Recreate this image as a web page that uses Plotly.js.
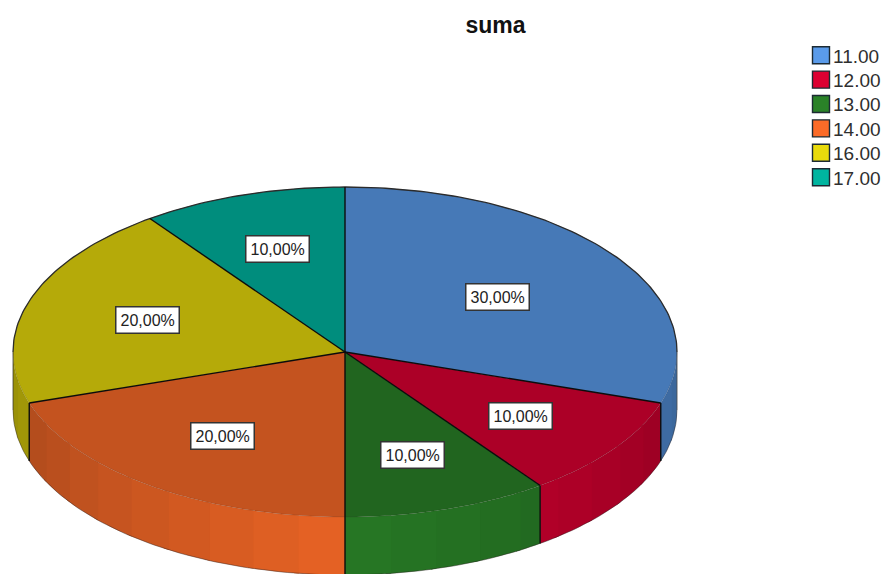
<!DOCTYPE html>
<html>
<head>
<meta charset="utf-8">
<script src="https://cdn.plot.ly/plotly-3.0.1.min.js"></script>
<style>html,body{margin:0;padding:0;background:#fff;overflow:hidden}#c{width:885px;height:574px}</style>
</head>
<body>
<div id="c"></div>
<script>
// data
var categories = ["11.00", "12.00", "13.00", "14.00", "16.00", "17.00"];
var percents = [30, 10, 10, 20, 20, 10];
var labels = ["30,00%", "10,00%", "10,00%", "20,00%", "20,00%", "10,00%"];
var baseColors = ["#5A9BEA", "#DC0032", "#2A8228", "#FB6B28", "#E8DA0C", "#00B5A0"];
var labelRadius = [0.566, 0.655, 0.656, 0.63, 0.625, 0.655];

// projection of the tilted pie
var cx = 345, cy = 352, rx = 332, ry = 165, depth = 58;
var topShade = 0.78, facet = 8, arcStep = 1;
var rad = Math.PI / 180;
function px(a) { return cx + rx * Math.sin(a * rad); }
function py(a) { return cy - ry * Math.cos(a * rad); }
function rgb(hex, f) {
  var n = parseInt(hex.slice(1), 16);
  var c = [(n >> 16) & 255, (n >> 8) & 255, n & 255].map(function (v) { return Math.min(255, Math.round(v * f)); });
  return "rgb(" + c.join(",") + ")";
}
function arc(a0, a1) {
  var out = [], a = a0;
  while (a < a1) { out.push(a); a += arcStep; }
  out.push(a1);
  return out;
}
function sideShade(a) { return 0.65 + 0.27 * (1 - Math.abs(a - 180) / 90); }

var traces = [], total = percents.reduce(function (s, v) { return s + v; }, 0);
var starts = [], acc = 0;
percents.forEach(function (p) { starts.push(acc / total * 360); acc += p; });
function endOf(i) { return starts[i] + percents[i] / total * 360; }
function shape(xs, ys, fill, name) {
  traces.push({ type: "scatter", mode: "none", x: xs, y: ys, fill: "toself", fillcolor: fill,
    name: name, showlegend: false, hoverinfo: "skip" });
}
function stroke(xs, ys, color, width) {
  traces.push({ type: "scatter", mode: "lines", x: xs, y: ys, line: { color: color, width: width },
    showlegend: false, hoverinfo: "skip" });
}

// visible side wall, faceted; each facet runs slightly under its neighbour so no seam shows
categories.forEach(function (cat, i) {
  var s = Math.max(starts[i], 90), e = Math.min(endOf(i), 270);
  if (e <= s) return;
  var a = s, parts = [];
  while (a < e - 1e-6) {
    var next = Math.min(e, (Math.floor((a - 180) / facet + 1e-6) + 1) * facet + 180);
    parts.push([a, next]);
    a = next;
  }
  parts.forEach(function (p) {
    var as = arc(p[0], Math.min(e, p[1] + 1));
    var xs = as.map(px), ys = as.map(py);
    var xb = xs.slice().reverse(), yb = as.map(function (t) { return py(t) + depth; }).reverse();
    shape(xs.concat(xb), ys.concat(yb), rgb(baseColors[i], sideShade((p[0] + p[1]) / 2)), cat);
  });
});

// top slices
categories.forEach(function (cat, i) {
  var as = arc(starts[i], endOf(i));
  shape([cx].concat(as.map(px), [cx]), [cy].concat(as.map(py), [cy]), rgb(baseColors[i], topShade), cat);
});

// silhouette and edges
var back1 = arc(0, 90), back2 = arc(270, 360), front = arc(90, 270);
stroke(back1.map(px), back1.map(py), "#2b2b2b", 1.3);
stroke(back2.map(px), back2.map(py), "#2b2b2b", 1.3);
stroke(front.map(px), front.map(function (t) { return py(t) + depth; }), "rgba(40,30,30,0.55)", 0.8);
stroke(front.map(px), front.map(py), "rgba(40,30,30,0.22)", 0.7);
stroke([px(90), px(90)], [py(90), py(90) + depth], "rgba(40,40,40,0.7)", 1);
stroke([px(270), px(270)], [py(270), py(270) + depth], "rgba(40,40,40,0.7)", 1);
starts.forEach(function (a) {
  stroke([cx, px(a)], [cy, py(a)], "#0c0c0c", 1.4);
  if (a >= 90 && a <= 270) stroke([px(a), px(a)], [py(a), py(a) + depth], "#0c0c0c", 1.4);
});

// legend
var legendX = 821, legendTop = 55.2, legendRow = 24.4;
categories.forEach(function (cat, i) {
  var y = legendTop + i * legendRow;
  traces.push({ type: "scatter", mode: "markers", x: [legendX], y: [y],
    marker: { symbol: "square", size: 17, color: baseColors[i], line: { color: "#1c2a33", width: 1.4 } },
    name: cat, showlegend: false, hovertemplate: cat + "<extra></extra>" });
  traces.push({ type: "scatter", mode: "text", x: [legendX + 12], y: [y + 2.6],
    text: [cat], textposition: "middle right",
    textfont: { family: "Liberation Sans, Arial, sans-serif", size: 19, color: "#2f2f2f" },
    name: cat, showlegend: false, hoverinfo: "skip", cliponaxis: false });
});

// boxed value labels
var annotations = labels.map(function (t, i) {
  var m = starts[i] + percents[i] / total * 180;
  return { x: cx + labelRadius[i] * rx * Math.sin(m * rad), y: cy - labelRadius[i] * ry * Math.cos(m * rad),
    xref: "x", yref: "y", text: t, showarrow: false, bgcolor: "#ffffff", bordercolor: "#333333",
    borderwidth: 1.5, borderpad: 4, font: { family: "Liberation Sans, Arial, sans-serif", size: 16, color: "#222222" } };
});

var layout = {
  width: 885, height: 574, margin: { l: 0, r: 0, t: 0, b: 0 }, showlegend: false,
  paper_bgcolor: "#ffffff", plot_bgcolor: "#ffffff",
  title: { text: "<b>suma</b>", x: 495.5 / 885, xanchor: "center", xref: "paper", y: 1 - 25 / 574, yanchor: "middle", yref: "container",
    font: { family: "Liberation Sans, Arial, sans-serif", size: 23, color: "#111111" } },
  xaxis: { range: [0, 885], visible: false, fixedrange: true },
  yaxis: { range: [574, 0], visible: false, fixedrange: true },
  annotations: annotations
};
Plotly.newPlot("c", traces, layout, { displayModeBar: false });
</script>
</body>
</html>
